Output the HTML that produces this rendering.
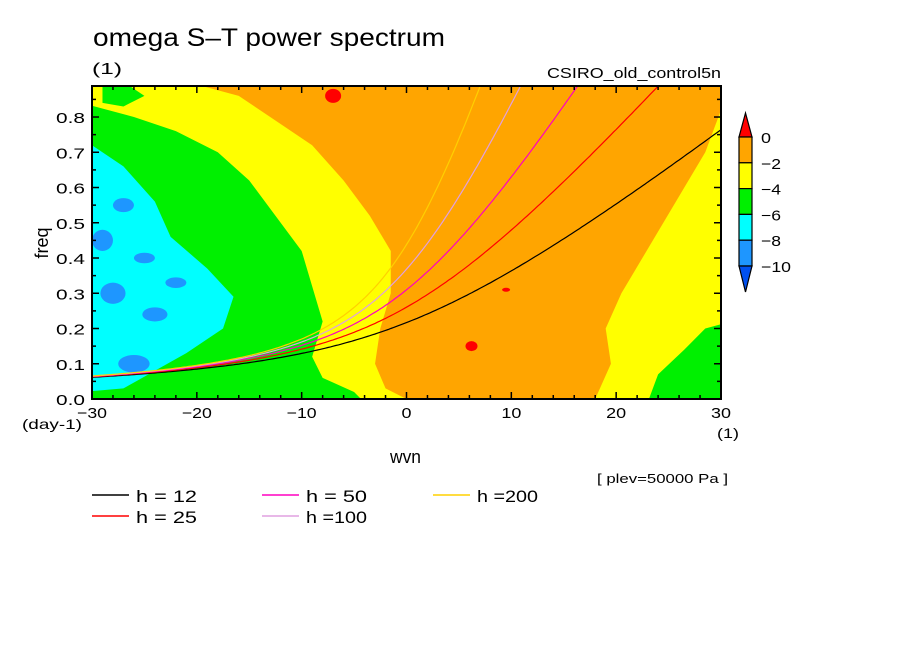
<!DOCTYPE html>
<html><head><meta charset="utf-8">
<style>
body{margin:0;background:#fff;}
svg text{font-family:"Liberation Sans",sans-serif;fill:#000;}
</style></head>
<body>
<svg id="chart" width="904" height="654" viewBox="0 0 904 654" xmlns="http://www.w3.org/2000/svg">
<rect width="904" height="654" fill="#fff"/>
<text x="93" y="46" font-size="25" textLength="352" lengthAdjust="spacingAndGlyphs">omega S–T power spectrum</text>
<text x="92" y="74" font-size="16" textLength="30" lengthAdjust="spacingAndGlyphs">(1)</text>
<text x="547" y="78" font-size="15" textLength="174" lengthAdjust="spacingAndGlyphs">CSIRO_old_control5n</text>
<defs><clipPath id="pc"><rect x="92" y="86" width="629" height="313"/></clipPath></defs>
<g id="field" clip-path="url(#pc)"></g>
<g id="curves" clip-path="url(#pc)"></g>
<rect x="92" y="86" width="629" height="313" fill="none" stroke="#000" stroke-width="2"/>
<g id="axes"></g>
<text transform="translate(48,243) rotate(-90)" font-size="18" text-anchor="middle">freq</text>
<text x="22" y="429" font-size="14" textLength="60" lengthAdjust="spacingAndGlyphs">(day-1)</text>
<text x="717" y="438" font-size="14" textLength="22" lengthAdjust="spacingAndGlyphs">(1)</text>
<text x="390" y="463" font-size="18" textLength="31" lengthAdjust="spacingAndGlyphs">wvn</text>
<text x="597" y="483" font-size="13" textLength="131" lengthAdjust="spacingAndGlyphs">[ plev=50000 Pa ]</text>
<g id="legend"></g>
<g id="cbar"></g>
</svg>
<script>
const hValues=[12,25,50,100,200];
const hColors=["#000000","#ff0000","#ff00c0","#e0a0e0","#ffd000"];
const hLabels=["h = 12","h = 25","h = 50","h =100","h =200"];
const xTicks=[-30,-20,-10,0,10,20,30];
const yTicks=[0,0.1,0.2,0.3,0.4,0.5,0.6,0.7,0.8];
const cbLevels=["0","-2","-4","-6","-8","-10"];
const cbColors=["#ff0000","#ffa500","#ffff00","#00f000","#00ffff","#1e96ff","#0050f0"];
const orangeRegion=[[-21,0.9],[-16,0.86],[-13,0.8],[-9,0.72],[-6,0.62],[-3.5,0.52],[-1.5,0.42],[-1.5,0.3],[-2.5,0.2],[-3,0.1],[-2,0.03],[0,0],[18,0],[19.5,0.1],[19,0.2],[20.5,0.3],[22.5,0.4],[24.5,0.5],[26.5,0.6],[28.5,0.7],[29.5,0.78],[31,0.9]];
const greenLeft=[[-31,0.84],[-26,0.8],[-22,0.76],[-18,0.7],[-15,0.62],[-12.5,0.52],[-10,0.42],[-9,0.32],[-8,0.22],[-9,0.12],[-8,0.06],[-5,0.02],[-4,-0.01],[-31,-0.01]];
const greenTop=[[-29,0.89],[-27,0.9],[-25,0.86],[-27,0.83],[-29,0.84]];
const cyanLeft=[[-31,0.74],[-27,0.66],[-24,0.56],[-22.5,0.46],[-19,0.37],[-16.5,0.29],[-17.5,0.2],[-21,0.13],[-24,0.08],[-27,0.03],[-31,0.02]];
const greenRight=[[23,-0.01],[24,0.07],[26.5,0.14],[28.5,0.2],[31,0.22],[31,-0.01]];
const bluePatches=[[-28,0.3,1.2,0.03],[-26,0.1,1.5,0.025],[-24,0.24,1.2,0.02],[-29,0.45,1,0.03],[-22,0.33,1,0.015],[-27,0.55,1,0.02],[-25,0.4,1,0.015]];
const redSpots=[[-7,0.86,8,7],[6.2,0.15,6,5],[9.5,0.31,4,2]];

const NS="http://www.w3.org/2000/svg";
const X0=92,X1=721,Y0=399,Y1=86,FMAX=0.888;
function sx(k){return X0+(k+30)/60*(X1-X0);}
function sy(f){return Y0-f/FMAX*(Y0-Y1);}
function mk(tag,attrs,parent){const e=document.createElementNS(NS,tag);for(const a in attrs)e.setAttribute(a,attrs[a]);parent.appendChild(e);return e;}
const fieldG=document.getElementById('field');
let r=mk('rect',{x:X0,y:Y1,width:X1-X0,height:Y0-Y1,fill:'#ffff00'},fieldG);


function poly(pts,fill,name){const p=mk('polygon',{points:pts.map(q=>sx(q[0])+','+sy(q[1])).join(' '),fill:fill},fieldG);

}
poly(orangeRegion,'#ffa500','orange-region');
poly(greenLeft,'#00f000','green-region-left');
poly(greenTop,'#00f000','green-region-top');
poly(cyanLeft,'#00ffff','cyan-region');
poly(greenRight,'#00f000','green-region-right');
bluePatches.forEach(b=>{const e=mk('ellipse',{cx:sx(b[0]),cy:sy(b[1]),rx:b[2]*10.48,ry:b[3]*352.5,fill:'#1e96ff'},fieldG);

});
redSpots.forEach(b=>{const e=mk('ellipse',{cx:sx(b[0]),cy:sy(b[1]),rx:b[2],ry:b[3],fill:'#ff0000'},fieldG);

});

const curvesG=document.getElementById('curves');
const beta=2.29e-11,Rearth=6.371e6,grav=9.81;
hValues.forEach((h,i)=>{const c=Math.sqrt(grav*h);let d='';
for(let s=-30;s<=30.01;s+=0.25){const k=s/Rearth;const w=k*c/2+Math.sqrt((k*c/2)**2+beta*c);const f=w*86400/(2*Math.PI);
d+=(d?'L':'M')+sx(s).toFixed(1)+','+sy(f).toFixed(1);}
const p=mk('path',{d:d,fill:'none',stroke:hColors[i],'stroke-width':1.2},curvesG);

});

const ax=document.getElementById('axes');
for(let k=-30;k<=30;k+=2){const L=(k%10===0)?7:4;
mk('line',{x1:sx(k),x2:sx(k),y1:Y0,y2:Y0-L,stroke:'#000','stroke-width':1.5},ax);
mk('line',{x1:sx(k),x2:sx(k),y1:Y1,y2:Y1+L,stroke:'#000','stroke-width':1.5},ax);}
for(let j=0;j<=17;j++){const f=j*0.05;const L=(j%2===0)?7:4;
mk('line',{x1:X0,x2:X0+L,y1:sy(f),y2:sy(f),stroke:'#000','stroke-width':1.5},ax);
mk('line',{x1:X1,x2:X1-L,y1:sy(f),y2:sy(f),stroke:'#000','stroke-width':1.5},ax);}
xTicks.forEach(k=>{const lab=(k<0?'−':'')+Math.abs(k);const t=mk('text',{x:sx(k),y:418,'font-size':15,'text-anchor':'middle',textLength:(lab.length*10),lengthAdjust:'spacingAndGlyphs'},ax);t.textContent=lab;

});
yTicks.forEach(f=>{const t=mk('text',{x:56,y:sy(f)+6,'font-size':15,textLength:29,lengthAdjust:'spacingAndGlyphs'},ax);t.textContent=f.toFixed(1);

});

const lg=document.getElementById('legend');
const lx=[92,92,262,262,433],ly=[495,516,495,516,495];
hValues.forEach((h,i)=>{mk('line',{x1:lx[i],x2:lx[i]+37,y1:ly[i],y2:ly[i],stroke:hColors[i],'stroke-width':1.5},lg);
const t=mk('text',{x:lx[i]+44,y:ly[i]+7,'font-size':17,textLength:61,lengthAdjust:'spacingAndGlyphs'},lg);t.textContent=hLabels[i];

});

const cb=document.getElementById('cbar');
const cx0=739,cx1=752,cw=cx1-cx0;const cbTop=137,step=25.8;
mk('polygon',{points:`${cx0},${cbTop} ${cx1},${cbTop} ${(cx0+cx1)/2},${cbTop-24}`,fill:cbColors[0],stroke:'#000','stroke-width':1.2},cb);
for(let i=1;i<=5;i++){mk('rect',{x:cx0,y:cbTop+(i-1)*step,width:cw,height:step,fill:cbColors[i],stroke:'#000','stroke-width':1.2},cb);}
const cbBot=cbTop+5*step;
mk('polygon',{points:`${cx0},${cbBot} ${cx1},${cbBot} ${(cx0+cx1)/2},${cbBot+26}`,fill:cbColors[6],stroke:'#000','stroke-width':1.2},cb);
cbLevels.forEach((l,i)=>{const lab=l.replace('-','−');const t=mk('text',{x:761,y:cbTop+i*step+6,'font-size':15,textLength:lab.length*10,lengthAdjust:'spacingAndGlyphs'},cb);t.textContent=lab;

});
</script>
</body></html>
